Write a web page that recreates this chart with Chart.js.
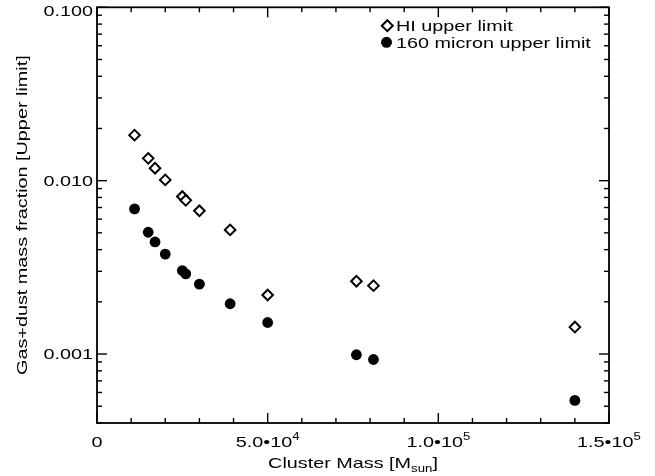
<!DOCTYPE html>
<html>
<head>
<meta charset="utf-8">
<script src="https://cdn.jsdelivr.net/npm/chart.js@4.4.1/dist/chart.umd.min.js"></script>
<style>
  html, body { margin: 0; padding: 0; background: #fff; }
  #wrap { width: 655px; height: 476px; position: relative; }
</style>
</head>
<body>
<div id="wrap"><canvas id="massChart"></canvas></div>
<script>
// cluster masses [M_sun] and upper limits
const clusterMass = [11000, 15000, 17000, 20000, 25000, 26000, 30000, 39000, 50000, 76000, 81000, 140000];
const hiLimit     = [0.0183, 0.01345, 0.0118, 0.0101, 0.0081, 0.0077, 0.0067, 0.0052, 0.00219, 0.00263, 0.00248, 0.00143];
const micronLimit = [0.00687, 0.00504, 0.00443, 0.00377, 0.00303, 0.0029, 0.00253, 0.00195, 0.00152, 0.00099, 0.00093, 0.00054];

const seriesNames = ["HI upper limit", "160 micron upper limit"];

const xTickValues   = [0, 50000, 100000, 150000];
const xTickMantissa = ["0", "5.0\u202210", "1.0\u202210", "1.5\u202210"];
const xTickExponent = ["", "4", "5", "5"];
const yTickValues   = [0.001, 0.01, 0.1];
const yTickLabels   = ["0.001", "0.010", "0.100"];

const FONT = '"Liberation Sans", Arial, Helvetica, sans-serif';
const STRETCH = 1.32; // the original lettering is wide

// draw a row of text runs (for super/subscripts), stretched horizontally
function drawRuns(ctx, runs, x, y, align) {
  let total = 0;
  runs.forEach(r => {
    ctx.font = r.size + "px " + FONT;
    r.w = ctx.measureText(r.text).width * STRETCH;
    total += r.w;
  });
  let cx = align === "center" ? x - total / 2 : align === "right" ? x - total : x;
  runs.forEach(r => {
    ctx.save();
    ctx.font = r.size + "px " + FONT;
    ctx.textAlign = "left";
    ctx.textBaseline = "alphabetic";
    ctx.translate(cx, y + (r.dy || 0));
    ctx.scale(STRETCH, 1);
    ctx.fillText(r.text, 0, 0);
    ctx.restore();
    cx += r.w;
  });
}

function diamond(ctx, x, y, r) {
  ctx.beginPath();
  ctx.moveTo(x - r, y);
  ctx.lineTo(x, y - r);
  ctx.lineTo(x + r, y);
  ctx.lineTo(x, y + r);
  ctx.closePath();
}

const frameAndText = {
  id: "frameAndText",
  afterDraw(chart) {
    const ctx = chart.ctx;
    const a = chart.chartArea;
    const xs = chart.scales.x, ys = chart.scales.y;
    ctx.save();
    ctx.strokeStyle = "#000";
    ctx.fillStyle = "#000";

    // box
    ctx.lineWidth = 1.8;
    ctx.strokeRect(a.left, a.top, a.right - a.left, a.bottom - a.top);

    // ticks, pointing inward on all four sides
    ctx.lineWidth = 1.4;
    const tick = (x1, y1, x2, y2) => { ctx.beginPath(); ctx.moveTo(x1, y1); ctx.lineTo(x2, y2); ctx.stroke(); };
    for (let v = 0; v <= 150000; v += 10000) {
      const px = xs.getPixelForValue(v);
      const len = v % 50000 === 0 ? 10 : 5;
      tick(px, a.bottom, px, a.bottom - len);
      tick(px, a.top, px, a.top + len);
    }
    for (let d = 0.0001; d < 0.2; d *= 10) {
      for (let m = 1; m <= 9; m++) {
        const v = d * m;
        if (v < ys.min * 0.999 || v > ys.max * 1.001) continue;
        const py = ys.getPixelForValue(v);
        const len = m === 1 ? 10 : 5;
        tick(a.left, py, a.left + len, py);
        tick(a.right, py, a.right - len, py);
      }
    }

    // y tick labels
    yTickValues.forEach((v, i) => {
      const py = Math.max(ys.getPixelForValue(v), 10.3);
      drawRuns(ctx, [{ text: yTickLabels[i], size: 15 }], a.left - 4, py + 5.3, "right");
    });

    // x tick labels with exponents
    xTickValues.forEach((v, i) => {
      const runs = [{ text: xTickMantissa[i], size: 15 }];
      if (xTickExponent[i]) runs.push({ text: xTickExponent[i], size: 10, dy: -7 });
      drawRuns(ctx, runs, xs.getPixelForValue(v), 446.7, "center");
    });

    // axis titles
    drawRuns(ctx, [
      { text: "Cluster Mass [M", size: 15 },
      { text: "sun", size: 10, dy: 4.5 },
      { text: "]", size: 15 }
    ], (a.left + a.right) / 2, 467.7, "center");

    ctx.save();
    ctx.translate(26.7, (a.top + a.bottom) / 2);
    ctx.rotate(-Math.PI / 2);
    drawRuns(ctx, [{ text: "Gas+dust mass fraction [Upper limit]", size: 15 }], 0, 0, "center");
    ctx.restore();

    // legend inside the plot
    ctx.lineWidth = 2;
    ctx.fillStyle = "#fff";
    diamond(ctx, 387.3, 25.7, 5.5);
    ctx.fill();
    ctx.stroke();
    ctx.fillStyle = "#000";
    ctx.beginPath();
    ctx.arc(386.5, 42.3, 5.5, 0, Math.PI * 2);
    ctx.fill();
    drawRuns(ctx, [{ text: seriesNames[0], size: 15 }], 396, 31, "left");
    drawRuns(ctx, [{ text: seriesNames[1], size: 15 }], 396, 47.6, "left");

    ctx.restore();
  }
};

const toPoints = ys => clusterMass.map((m, i) => ({ x: m, y: ys[i] }));

new Chart(document.getElementById("massChart").getContext("2d"), {
  type: "scatter",
  data: {
    datasets: [
      {
        label: seriesNames[0],
        data: toPoints(hiLimit),
        pointStyle: "rectRot",
        pointRadius: 5.3,
        pointHoverRadius: 5.3,
        backgroundColor: "#fff",
        borderColor: "#000",
        borderWidth: 2
      },
      {
        label: seriesNames[1],
        data: toPoints(micronLimit),
        pointStyle: "circle",
        pointRadius: 5.4,
        pointHoverRadius: 5.4,
        backgroundColor: "#000",
        borderColor: "#000",
        borderWidth: 0
      }
    ]
  },
  options: {
    responsive: true,
    maintainAspectRatio: false,
    animation: false,
    layout: { padding: { left: 0, top: 4, right: 46, bottom: 0 } },
    plugins: {
      legend: { display: false },
      tooltip: { enabled: false },
      title: { display: false }
    },
    scales: {
      x: {
        type: "linear",
        min: 0,
        max: 150000,
        grid: { display: false },
        border: { display: false },
        ticks: { display: false },
        afterFit: s => { s.height = 53; }
      },
      y: {
        type: "logarithmic",
        min: 0.0004,
        max: 0.1,
        grid: { display: false },
        border: { display: false },
        ticks: { display: false },
        afterFit: s => { s.width = 97; }
      }
    }
  },
  plugins: [frameAndText]
});
</script>
</body>
</html>
